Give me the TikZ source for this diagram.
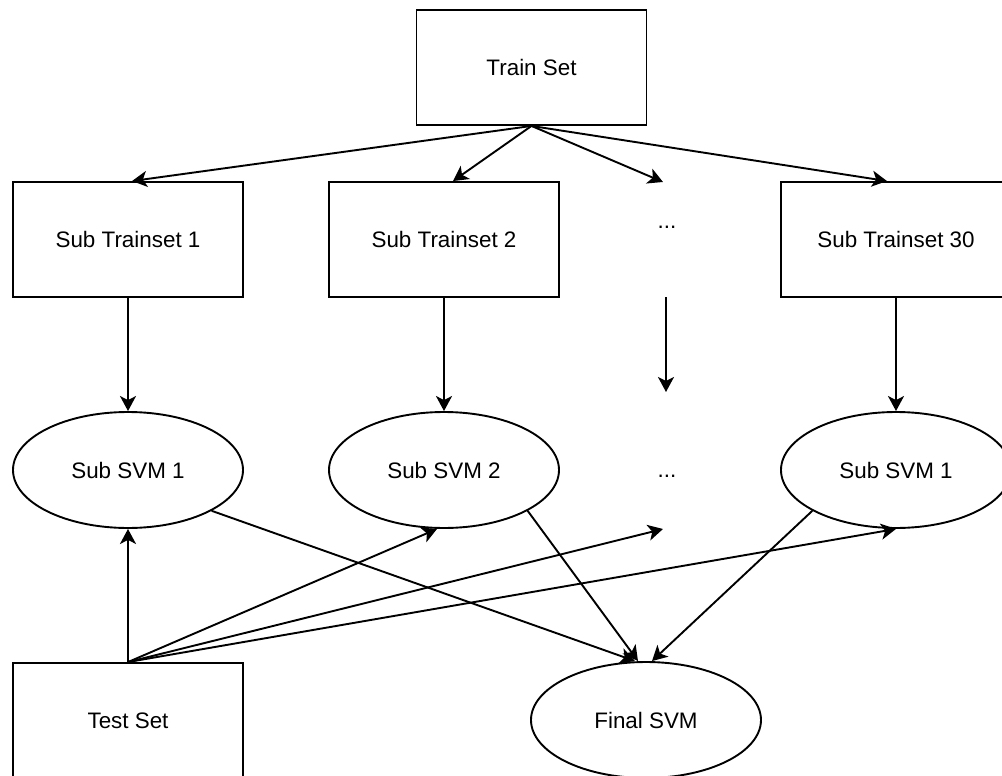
\documentclass[tikz,border=0pt]{standalone}
\usepackage{fontspec}
\setmainfont{Liberation Sans}
\usetikzlibrary{arrows.meta,shapes.geometric}
\tikzset{
  box/.style={draw, line width=1.9pt, rectangle, minimum width=230pt, minimum height=115pt, inner sep=0pt, font=\fontsize{22.4}{26}\selectfont},
  oval/.style={draw, line width=1.9pt, ellipse, minimum width=230pt, minimum height=116pt, inner sep=0pt, font=\fontsize{22.4}{26}\selectfont},
  plain/.style={inner sep=0pt, font=\fontsize{22.4}{26}\selectfont},
  conn/.style={line width=1.9pt, -{Stealth[length=15pt, width=16pt, inset=4pt]}}
}
\begin{document}
\begin{tikzpicture}[x=1pt, y=-1pt]
\useasboundingbox (0,0) rectangle (1002,776);
\clip (0,0) rectangle (1002,776);
\node[box] (train) at (531.5,67.5) {Train Set};
\node[box] (st1) at (128,239.5) {Sub Trainset 1};
\node[box] (st2) at (444,239.5) {Sub Trainset 2};
\node[plain] (dots1) at (667,227) {...};
\node[box] (st30) at (896,239.5) {Sub Trainset 30};
\node[oval] (s1) at (128,470) {Sub SVM 1};
\node[oval] (s2) at (444,470) {Sub SVM 2};
\node[plain] (dots2) at (667,476) {...};
\node[oval] (s3) at (896,470) {Sub SVM 1};
\node[box] (test) at (128,720.5) {Test Set};
\node[oval] (final) at (646,720) {Final SVM};
\coordinate (c1) at (663,182);
\coordinate (c2) at (666,297);
\coordinate (c3) at (666,392);
\coordinate (c4) at (663,529);

\draw[conn] (train.south) -- ([xshift=4pt]st1.north);
\draw[conn] (train.south) -- ([xshift=9pt]st2.north);
\draw[conn] (train.south) -- (c1);
\draw[conn] (train.south) -- ([xshift=-9pt]st30.north);

\draw[conn] (st1.south) -- (s1.north);
\draw[conn] (st2.south) -- (s2.north);
\draw[conn] (c2) -- (c3);
\draw[conn] (st30.south) -- (s3.north);

\draw[conn] (test.north) -- (s1.south);
\draw[conn] (test.north) -- ([xshift=-7pt]s2.south);
\draw[conn] (test.north) -- (c4);
\draw[conn] (test.north) -- (s3.south);

\draw[conn] (s1.-26) -- ([xshift=-11pt]final.north);
\draw[conn] (s2.-26) -- ([xshift=-8pt]final.north);
\draw[conn] (s3.206) -- ([xshift=6pt]final.north);
\end{tikzpicture}
\end{document}
